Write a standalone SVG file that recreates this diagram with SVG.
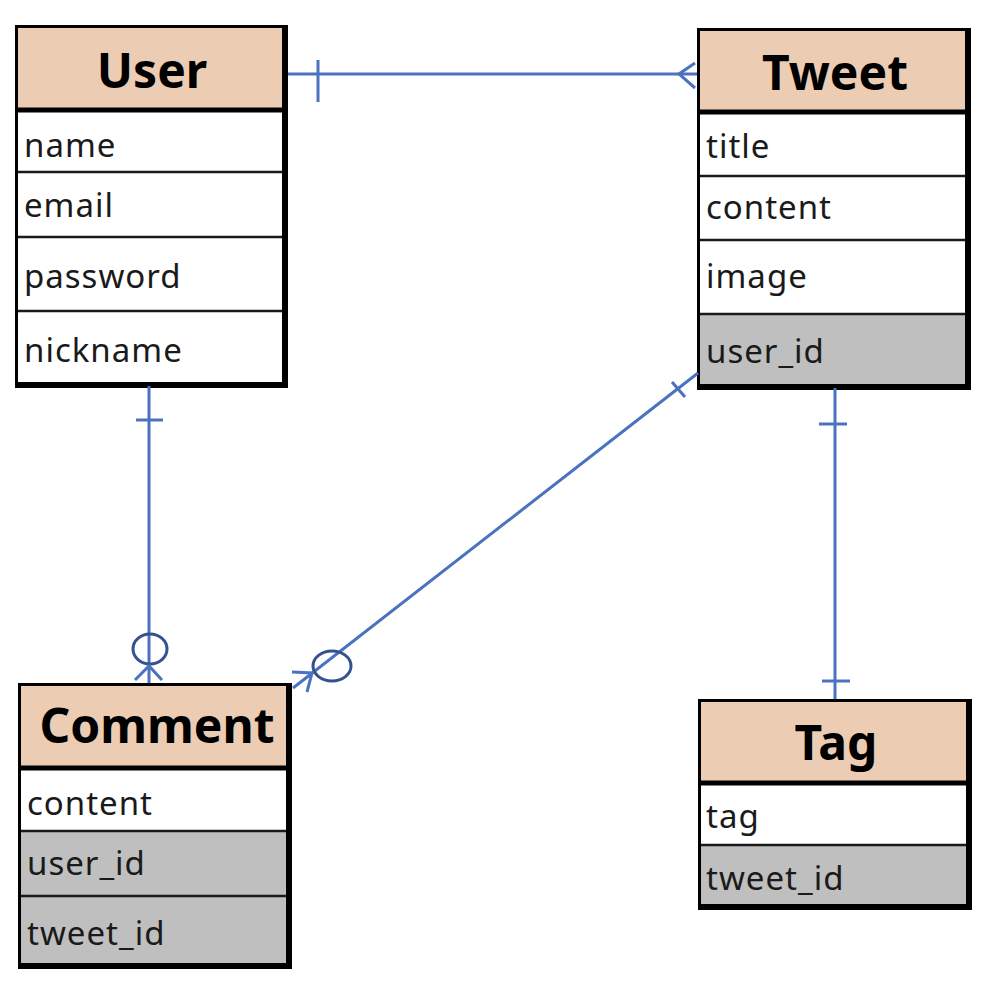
<svg xmlns="http://www.w3.org/2000/svg" width="996" height="984" viewBox="0 0 996 984">
<style>
.hd{fill:#ECCDB3}
.wh{fill:#FFFFFF}
.gr{fill:#BFBFBF}
.frame{fill:none;stroke:#000;stroke-width:3}
.shadow{fill:none;stroke:#000;stroke-width:6}
.hdiv{stroke:#000;stroke-width:5}
.rdiv{stroke:#1a1a1a;stroke-width:2.5}
.title{font-family:"Noto Sans","Liberation Sans",sans-serif;font-weight:bold;font-size:48px;fill:#000;text-anchor:middle}
.attr{font-family:"Noto Sans","Liberation Sans",sans-serif;font-size:33px;letter-spacing:1px;fill:#1a1a1a}
.ln{fill:none;stroke:#4A72C0;stroke-width:3}
.circ{fill:none;stroke:#34528F;stroke-width:3}
</style>
<rect width="996" height="984" fill="#FFFFFF"/>

<g id="user">
  <rect class="hd" x="15" y="25" width="273" height="85"/>
  <rect class="wh" x="15" y="110" width="273" height="278"/>
  <line class="hdiv" x1="15" y1="110" x2="288" y2="110"/>
  <line class="rdiv" x1="15" y1="172" x2="288" y2="172"/>
  <line class="rdiv" x1="15" y1="237" x2="288" y2="237"/>
  <line class="rdiv" x1="15" y1="311" x2="288" y2="311"/>
  <rect class="frame" x="16.5" y="26.5" width="269" height="359"/>
  <polyline class="shadow" points="285,25 285,385 15,385"/>
  <text class="title" x="152" y="88">User</text>
  <text class="attr" x="24" y="157">name</text>
  <text class="attr" x="24" y="217">email</text>
  <text class="attr" x="24" y="288">password</text>
  <text class="attr" x="24" y="362">nickname</text>
</g>

<g id="tweet">
  <rect class="hd" x="697" y="28" width="274" height="84"/>
  <rect class="wh" x="697" y="112" width="274" height="202"/>
  <rect class="gr" x="697" y="314" width="274" height="76"/>
  <line class="hdiv" x1="697" y1="112" x2="971" y2="112"/>
  <line class="rdiv" x1="697" y1="176" x2="971" y2="176"/>
  <line class="rdiv" x1="697" y1="240" x2="971" y2="240"/>
  <line class="rdiv" x1="697" y1="314" x2="971" y2="314"/>
  <rect class="frame" x="698.5" y="29.5" width="270" height="358"/>
  <polyline class="shadow" points="968,28 968,387 697,387"/>
  <text class="title" x="835" y="90">Tweet</text>
  <text class="attr" x="706" y="158">title</text>
  <text class="attr" x="706" y="219">content</text>
  <text class="attr" x="706" y="288">image</text>
  <text class="attr" x="706" y="363">user_id</text>
</g>

<g id="comment">
  <rect class="hd" x="18" y="683" width="274" height="85"/>
  <rect class="wh" x="18" y="768" width="274" height="63"/>
  <rect class="gr" x="18" y="831" width="274" height="138"/>
  <line class="hdiv" x1="18" y1="768" x2="292" y2="768"/>
  <line class="rdiv" x1="18" y1="831" x2="292" y2="831"/>
  <line class="rdiv" x1="18" y1="896" x2="292" y2="896"/>
  <rect class="frame" x="19.5" y="684.5" width="270" height="282"/>
  <polyline class="shadow" points="289,683 289,966 18,966"/>
  <text class="title" x="157" y="743">Comment</text>
  <text class="attr" x="27" y="815">content</text>
  <text class="attr" x="27" y="875">user_id</text>
  <text class="attr" x="27" y="945">tweet_id</text>
</g>

<g id="tag">
  <rect class="hd" x="698" y="699" width="274" height="84"/>
  <rect class="wh" x="698" y="783" width="274" height="62"/>
  <rect class="gr" x="698" y="845" width="274" height="65"/>
  <line class="hdiv" x1="698" y1="783" x2="972" y2="783"/>
  <line class="rdiv" x1="698" y1="845" x2="972" y2="845"/>
  <rect class="frame" x="699.5" y="700.5" width="270" height="207"/>
  <polyline class="shadow" points="969,699 969,907 698,907"/>
  <text class="title" x="836" y="760">Tag</text>
  <text class="attr" x="706" y="828">tag</text>
  <text class="attr" x="706" y="890">tweet_id</text>
</g>

<g id="connectors">
  <!-- User - Tweet -->
  <line class="ln" x1="288" y1="74" x2="697" y2="74"/>
  <line class="ln" x1="318" y1="60" x2="318" y2="102"/>
  <polyline class="ln" points="695,63 679,74 695,88"/>
  <!-- User - Comment -->
  <line class="ln" x1="149" y1="386" x2="149" y2="683"/>
  <line class="ln" x1="136" y1="420" x2="163" y2="420"/>
  <ellipse class="circ" cx="150" cy="649" rx="17" ry="15"/>
  <polyline class="ln" points="135,680 149,666 162,680"/>
  <!-- Tweet - Comment -->
  <line class="ln" x1="698" y1="373" x2="293" y2="688"/>
  <line class="ln" x1="672" y1="382" x2="685" y2="397"/>
  <ellipse class="circ" cx="332" cy="666" rx="19" ry="15"/>
  <polyline class="ln" points="292,672 312,673 307,692"/>
  <!-- Tweet - Tag -->
  <line class="ln" x1="835" y1="388" x2="835" y2="699"/>
  <line class="ln" x1="819" y1="424" x2="847" y2="424"/>
  <line class="ln" x1="822" y1="681" x2="850" y2="681"/>
</g>
</svg>
